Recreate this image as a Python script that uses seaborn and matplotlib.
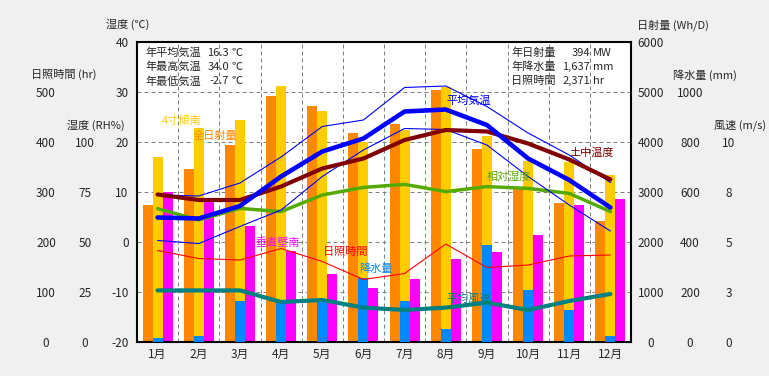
import numpy as np
import pandas as pd
import matplotlib
matplotlib.use('Agg')
import matplotlib.pyplot as plt
import seaborn as sns

# Monthly climate data
months = [f'{m}月' for m in range(1, 13)]
solar_total = [2740, 3460, 3940, 4927, 4720, 4187, 4360, 5040, 3860, 3073, 2780, 2427]   # 全日射量 Wh/D
south_tilt = [3707, 4273, 4440, 5127, 4620, 4007, 4240, 5107, 4120, 3620, 3607, 3340]    # 4寸傾南 Wh/D
south_wall = [2993, 2827, 2327, 1827, 1360, 1087, 1260, 1660, 1800, 2140, 2740, 2860]    # 垂直壁南 Wh/D
rain = [17, 24, 164, 161, 168, 255, 164, 52, 388, 208, 128, 24]                          # 降水量 mm
temp_avg = [4.9, 4.7, 7.2, 13.1, 18.1, 20.7, 26.1, 26.5, 23.4, 16.7, 12.4, 6.9]
temp_max = [9.4, 9.2, 11.8, 17.0, 23.1, 24.4, 30.9, 31.2, 27.1, 21.8, 17.4, 11.9]
temp_min = [0.3, -0.3, 3.1, 6.4, 13.1, 18.4, 22.7, 22.5, 19.4, 13.1, 7.4, 2.2]
soil_temp = [9.5, 8.4, 8.4, 11.1, 14.7, 16.7, 20.4, 22.4, 22.1, 19.7, 16.5, 12.5]
humidity = [66.7, 61.0, 66.8, 65.2, 73.5, 77.3, 78.8, 75.2, 77.7, 76.8, 74.3, 65.2]
sunshine = [183, 167, 164, 187, 161, 125, 137, 196, 149, 154, 172, 174]
wind = [2.58, 2.58, 2.58, 2.0, 2.1, 1.72, 1.6, 1.72, 1.97, 1.6, 2.05, 2.4]

# Axis ticks
temp_ticks = [-20, -10, 0, 10, 20, 30, 40]
sun_ticks = [0, 100, 200, 300, 400, 500]
rh_ticks = [0, 25, 50, 75, 100]
solar_ticks = [0, 1000, 2000, 3000, 4000, 5000, 6000]
rain_ticks = [0, 200, 400, 600, 800, 1000]
wind_ticks = [0, 2.5, 5, 7.5, 10]
wind_tick_labels = ['0', '3', '5', '8', '10']

sns.set_style('white')
plt.rcParams['font.family'] = ['Noto Sans CJK JP', 'DejaVu Sans']
plt.rcParams['axes.unicode_minus'] = False
FS = 8

W, H = 769, 376
fig = plt.figure(figsize=(W / 100, H / 100), dpi=100, facecolor='#F0F0F0')
ax = fig.add_axes([137 / W, 1 - 342 / H, (631 - 137) / W, 300 / H])
ax.set_facecolor('white')

# Solar radiation bars
bars_df = pd.DataFrame({'month': months, '全日射量': solar_total,
                        '4寸傾南': south_tilt, '垂直壁南': south_wall})
bars_df = bars_df.melt(id_vars='month', var_name='series', value_name='Wh')
sns.barplot(data=bars_df, x='month', y='Wh', hue='series',
            hue_order=['全日射量', '4寸傾南', '垂直壁南'],
            palette=['#FF8800', '#FFCC00', '#FF00FF'],
            width=0.73, saturation=1, linewidth=0, errorbar=None,
            legend=False, ax=ax)
ax.set_ylim(0, 6000)

# Precipitation bars (in front of the yellow bars)
ax_rain = ax.twinx()
sns.barplot(x=months, y=rain, color='#0088FF', width=0.73 / 3, saturation=1,
            linewidth=0, errorbar=None, ax=ax_rain)
ax_rain.set_ylim(0, 1200)

x = np.arange(12)

ax_sun = ax.twinx()
sns.lineplot(x=x, y=sunshine, color='#FF0000', linewidth=0.8, ax=ax_sun)
ax_sun.set_ylim(0, 600)

ax_rh = ax.twinx()
sns.lineplot(x=x, y=humidity, color='#55AA00', linewidth=2.5, ax=ax_rh)
ax_rh.set_ylim(0, 150)

ax_wind = ax.twinx()
sns.lineplot(x=x, y=wind, color='#008080', linewidth=3, ax=ax_wind)
ax_wind.set_ylim(0, 15)

ax_temp = ax.twinx()
sns.lineplot(x=x, y=temp_max, color='#0000FF', linewidth=0.8, ax=ax_temp)
sns.lineplot(x=x, y=temp_min, color='#0000FF', linewidth=0.8, ax=ax_temp)
sns.lineplot(x=x, y=soil_temp, color='#800000', linewidth=3, ax=ax_temp)
sns.lineplot(x=x, y=temp_avg, color='#0000FF', linewidth=3.3, ax=ax_temp)
ax_temp.set_ylim(-20, 40)

twins = [ax_rain, ax_sun, ax_rh, ax_wind, ax_temp]
for a in [ax] + twins:
    a.set_xlabel('')
    a.set_ylabel('')
for a in twins:
    for s in a.spines.values():
        s.set_visible(False)
for s in ax.spines.values():
    s.set_visible(True)
    s.set_color('black')
    s.set_linewidth(1.5)

ax.set_xlim(-0.5, 11.5)
ax.set_xticks(x, months)
ax.set_xticks(np.arange(0.5, 11, 1), minor=True)
ax.tick_params(axis='x', which='both', length=0, pad=4, labelsize=FS + 0.5)

# Tick label columns
ax.yaxis.tick_right()
ax.set_yticks(solar_ticks, [str(t) for t in solar_ticks], ha='center')
ax.tick_params(axis='y', length=0, pad=(651 - 631) * 0.72, labelsize=FS + 0.5)

ax_rain.yaxis.tick_right()
ax_rain.set_yticks(rain_ticks, [str(t) for t in rain_ticks], ha='center')
ax_rain.tick_params(axis='y', length=0, pad=(690 - 631) * 0.72, labelsize=FS + 0.5)

ax_wind.yaxis.tick_right()
ax_wind.set_yticks(wind_ticks, wind_tick_labels, ha='center')
ax_wind.tick_params(axis='y', length=0, pad=(729 - 631) * 0.72, labelsize=FS + 0.5)

ax_sun.yaxis.tick_left()
ax_sun.set_yticks(sun_ticks, [str(t) for t in sun_ticks], ha='center')
ax_sun.tick_params(axis='y', length=0, pad=(137 - 46) * 0.72, labelsize=FS + 0.5)

ax_rh.yaxis.tick_left()
ax_rh.set_yticks(rh_ticks, [str(t) for t in rh_ticks], ha='center')
ax_rh.tick_params(axis='y', length=0, pad=(137 - 85) * 0.72, labelsize=FS + 0.5)

ax_temp.yaxis.tick_left()
ax_temp.set_yticks(temp_ticks, [str(t) for t in temp_ticks])
ax_temp.tick_params(axis='y', length=0, pad=6, labelsize=FS + 0.5)

for a in twins:
    a.tick_params(axis='x', which='both', length=0)

# Grid
grid_kw = dict(color='#808080', linestyle=(0, (4, 3)), linewidth=0.72)
ax.set_axisbelow(True)
ax.grid(False)
ax.grid(which='minor', axis='x', **grid_kw)
ax.grid(which='major', axis='y', **grid_kw)


def ftext(px, py, s, **kw):
    kw.setdefault('fontsize', FS)
    fig.text(px / W, 1 - py / H, s, va='center', **kw)


# Axis titles
ftext(128, 24, '湿度 (℃)', ha='center')
ftext(64, 74, '日照時間 (hr)', ha='center')
ftext(96, 125, '湿度 (RH%)', ha='center')
ftext(673, 25, '日射量 (Wh/D)', ha='center')
ftext(705, 75, '降水量 (mm)', ha='center')
ftext(740, 125, '風速 (m/s)', ha='center')

# Summary text
ftext(145, 53, '年平均気温')
ftext(145, 67, '年最高気温')
ftext(145, 81, '年最低気温')
ftext(229, 53, '16.3', ha='right')
ftext(229, 67, '34.0', ha='right')
ftext(229, 81, '-2.7', ha='right')
for yy in (53, 67, 81):
    ftext(232, yy, '℃')

ftext(511, 53, '年日射量')
ftext(511, 67, '年降水量')
ftext(511, 81, '日照時間')
ftext(590, 53, '394', ha='right')
ftext(590, 67, '1,637', ha='right')
ftext(590, 81, '2,371', ha='right')
ftext(593, 53, 'MW')
ftext(593, 67, 'mm')
ftext(593, 81, 'hr')

# Series labels
ftext(162, 121, '4寸傾南', color='#FFCC00')
ftext(193, 136, '全日射量', color='#FF8800')
ftext(446, 101, '平均気温', color='#0000FF')
ftext(569, 153, '土中温度', color='#800000')
ftext(487, 177, '相対湿度', color='#55AA00')
ftext(255, 243, '垂直壁南', color='#FF00FF')
ftext(323, 252, '日照時間', color='#FF0000')
ftext(359, 269, '降水量', color='#0088FF')
ftext(446, 299, '平均風速', color='#008080')

fig.savefig('out.png', dpi=100, facecolor=fig.get_facecolor())
